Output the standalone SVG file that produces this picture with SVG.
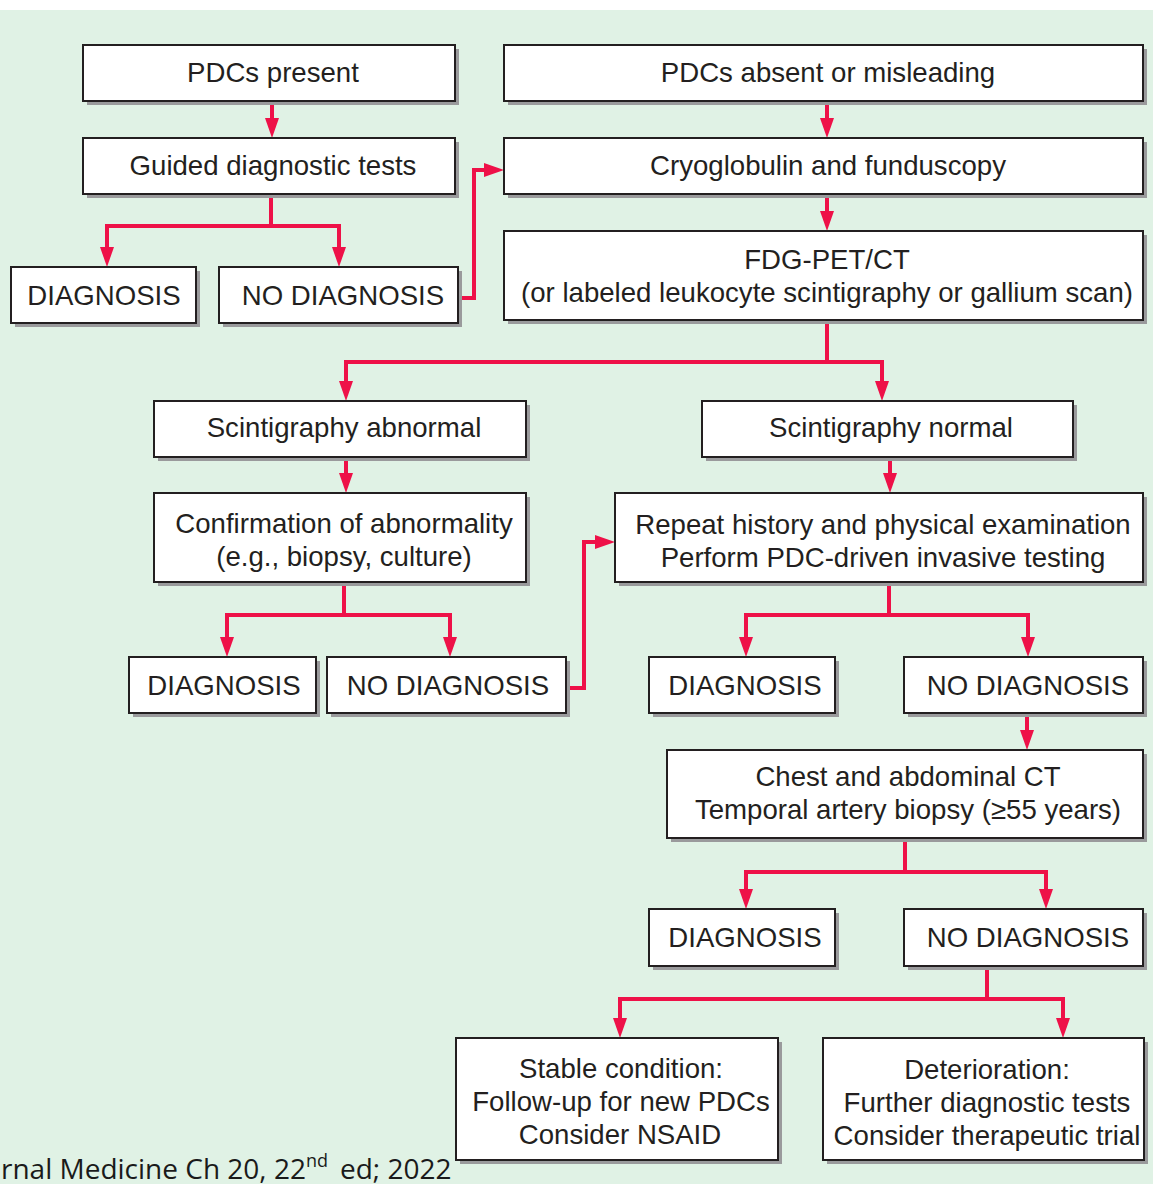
<svg xmlns="http://www.w3.org/2000/svg" width="1153" height="1184" viewBox="0 0 1153 1184">
<defs>
<style>
.bg{fill:#e0f2e5}
.sh{fill:#9a9a9c}
.box{fill:#ffffff;stroke:#231f20;stroke-width:2}
.t{font-family:"Liberation Sans",Arial,sans-serif;font-size:27.6px;fill:#231f20;text-anchor:middle}
.c{fill:none;stroke:#ee1148;stroke-width:4;stroke-linejoin:miter}
.cap{font-family:"Open Sans","Liberation Sans",sans-serif;font-size:28px;fill:#1a1a1a}
</style>
<marker id="ah" markerUnits="userSpaceOnUse" markerWidth="20" markerHeight="14" viewBox="0 0 20 14" refX="10" refY="7" orient="auto">
<path d="M0,0 L20,7 L0,14 z" fill="#ee1148"/>
</marker>
</defs>
<rect x="0" y="0" width="1153" height="1184" fill="#ffffff"/>
<rect class="bg" x="0" y="10" width="1153" height="1174"/>

<g id="connectors">
<path class="c" marker-end="url(#ah)" d="M272,101 V128"/>
<path class="c" marker-end="url(#ah)" d="M827,101 V128"/>
<path class="c" marker-end="url(#ah)" d="M271,194 V226 H107 V257"/>
<path class="c" marker-end="url(#ah)" d="M271,226 H339 V257"/>
<path class="c" marker-end="url(#ah)" d="M458,298 H474 V170 H494"/>
<path class="c" marker-end="url(#ah)" d="M827,194 V221"/>
<path class="c" marker-end="url(#ah)" d="M827,320 V362 H346 V391"/>
<path class="c" marker-end="url(#ah)" d="M827,362 H882 V391"/>
<path class="c" marker-end="url(#ah)" d="M346,457 V483"/>
<path class="c" marker-end="url(#ah)" d="M890,457 V483"/>
<path class="c" marker-end="url(#ah)" d="M344,582 V615 H227 V647"/>
<path class="c" marker-end="url(#ah)" d="M344,615 H450 V647"/>
<path class="c" marker-end="url(#ah)" d="M566,688 H584 V542 H605"/>
<path class="c" marker-end="url(#ah)" d="M889,582 V615 H746 V647"/>
<path class="c" marker-end="url(#ah)" d="M889,615 H1028 V647"/>
<path class="c" marker-end="url(#ah)" d="M1027,713 V740"/>
<path class="c" marker-end="url(#ah)" d="M905,838 V872 H746 V899"/>
<path class="c" marker-end="url(#ah)" d="M905,872 H1046 V899"/>
<path class="c" marker-end="url(#ah)" d="M987,966 V999 H620 V1028"/>
<path class="c" marker-end="url(#ah)" d="M987,999 H1063 V1028"/>
</g>

<g id="n_pdcs_present">
<rect class="sh" x="87" y="49" width="372" height="56"/>
<rect class="box" x="83" y="45" width="372" height="56"/>
<text class="t" x="273" y="82">PDCs present</text>
</g>
<g id="n_pdcs_absent">
<rect class="sh" x="508" y="49" width="639" height="56"/>
<rect class="box" x="504" y="45" width="639" height="56"/>
<text class="t" x="828" y="82">PDCs absent or misleading</text>
</g>
<g id="n_guided">
<rect class="sh" x="87" y="142" width="372" height="56"/>
<rect class="box" x="83" y="138" width="372" height="56"/>
<text class="t" x="273" y="175">Guided diagnostic tests</text>
</g>
<g id="n_cryo">
<rect class="sh" x="508" y="142" width="639" height="56"/>
<rect class="box" x="504" y="138" width="639" height="56"/>
<text class="t" x="828" y="175">Cryoglobulin and funduscopy</text>
</g>
<g id="n_diag1">
<rect class="sh" x="15" y="271" width="185" height="56"/>
<rect class="box" x="11" y="267" width="185" height="56"/>
<text class="t" x="104" y="305">DIAGNOSIS</text>
</g>
<g id="n_nodiag1">
<rect class="sh" x="223" y="271" width="239" height="56"/>
<rect class="box" x="219" y="267" width="239" height="56"/>
<text class="t" x="343" y="305">NO DIAGNOSIS</text>
</g>
<g id="n_fdg">
<rect class="sh" x="508" y="235" width="639" height="89"/>
<rect class="box" x="504" y="231" width="639" height="89"/>
<text class="t" x="827" y="269">FDG-PET/CT</text>
<text class="t" x="827" y="302">(or labeled leukocyte scintigraphy or gallium scan)</text>
</g>
<g id="n_scint_abn">
<rect class="sh" x="158" y="405" width="372" height="56"/>
<rect class="box" x="154" y="401" width="372" height="56"/>
<text class="t" x="344" y="437">Scintigraphy abnormal</text>
</g>
<g id="n_scint_norm">
<rect class="sh" x="706" y="405" width="371" height="56"/>
<rect class="box" x="702" y="401" width="371" height="56"/>
<text class="t" x="891" y="437">Scintigraphy normal</text>
</g>
<g id="n_confirm">
<rect class="sh" x="158" y="497" width="372" height="89"/>
<rect class="box" x="154" y="493" width="372" height="89"/>
<text class="t" x="344" y="533">Confirmation of abnormality</text>
<text class="t" x="344" y="566">(e.g., biopsy, culture)</text>
</g>
<g id="n_repeat">
<rect class="sh" x="619" y="497" width="528" height="89"/>
<rect class="box" x="615" y="493" width="528" height="89"/>
<text class="t" x="883" y="534">Repeat history and physical examination</text>
<text class="t" x="883" y="567">Perform PDC-driven invasive testing</text>
</g>
<g id="n_diag2">
<rect class="sh" x="133" y="661" width="187" height="56"/>
<rect class="box" x="129" y="657" width="187" height="56"/>
<text class="t" x="224" y="695">DIAGNOSIS</text>
</g>
<g id="n_nodiag2">
<rect class="sh" x="331" y="661" width="239" height="56"/>
<rect class="box" x="327" y="657" width="239" height="56"/>
<text class="t" x="448" y="695">NO DIAGNOSIS</text>
</g>
<g id="n_diag3">
<rect class="sh" x="653" y="661" width="186" height="56"/>
<rect class="box" x="649" y="657" width="186" height="56"/>
<text class="t" x="745" y="695">DIAGNOSIS</text>
</g>
<g id="n_nodiag3">
<rect class="sh" x="908" y="661" width="239" height="56"/>
<rect class="box" x="904" y="657" width="239" height="56"/>
<text class="t" x="1028" y="695">NO DIAGNOSIS</text>
</g>
<g id="n_chest">
<rect class="sh" x="671" y="754" width="476" height="88"/>
<rect class="box" x="667" y="750" width="476" height="88"/>
<text class="t" x="908" y="786">Chest and abdominal CT</text>
<text class="t" x="908" y="819">Temporal artery biopsy (≥55 years)</text>
</g>
<g id="n_diag4">
<rect class="sh" x="653" y="913" width="186" height="57"/>
<rect class="box" x="649" y="909" width="186" height="57"/>
<text class="t" x="745" y="947">DIAGNOSIS</text>
</g>
<g id="n_nodiag4">
<rect class="sh" x="908" y="913" width="239" height="57"/>
<rect class="box" x="904" y="909" width="239" height="57"/>
<text class="t" x="1028" y="947">NO DIAGNOSIS</text>
</g>
<g id="n_stable">
<rect class="sh" x="460" y="1042" width="322" height="122"/>
<rect class="box" x="456" y="1038" width="322" height="122"/>
<text class="t" x="621" y="1078">Stable condition:</text>
<text class="t" x="621" y="1111">Follow-up for new PDCs</text>
<text class="t" x="620" y="1144">Consider NSAID</text>
</g>
<g id="n_deter">
<rect class="sh" x="827" y="1042" width="321" height="122"/>
<rect class="box" x="823" y="1038" width="321" height="122"/>
<text class="t" x="987" y="1079">Deterioration:</text>
<text class="t" x="987" y="1112">Further diagnostic tests</text>
<text class="t" x="987" y="1145">Consider therapeutic trial</text>
</g>

<text class="cap" x="1" y="1179">rnal Medicine Ch 20, 22<tspan dy="-12" font-size="18">nd</tspan><tspan dy="12" dx="12">ed; 2022</tspan></text>
</svg>
